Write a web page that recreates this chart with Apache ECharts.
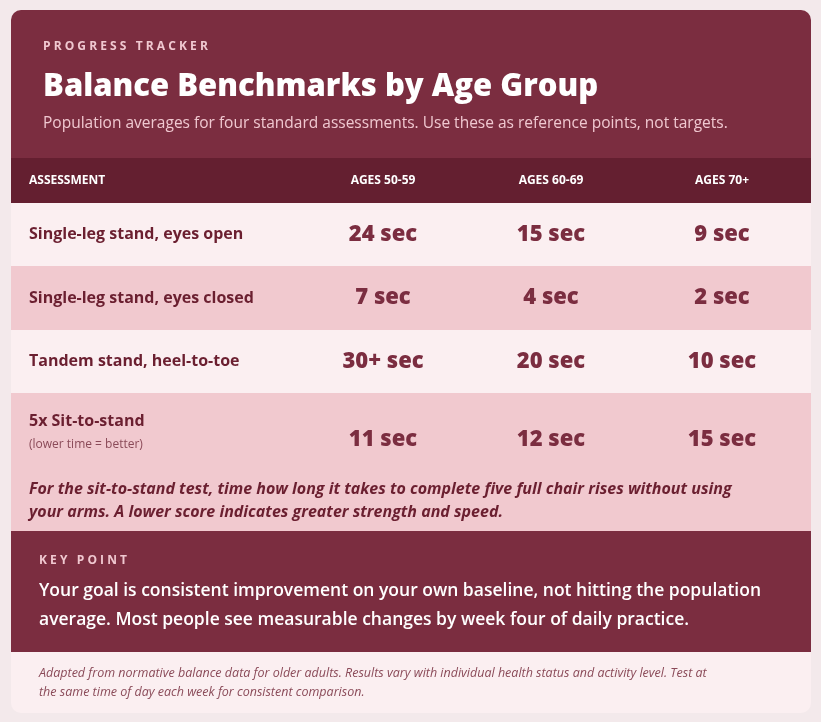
<!DOCTYPE html>
<html><head><meta charset="utf-8">
<script src="https://cdn.jsdelivr.net/npm/echarts@6/dist/echarts.min.js"></script>
<style>html,body{margin:0;padding:0;background:#f3e9eb}#c{width:821px;height:722px}</style>
</head><body><div id="c"></div>
<script>
// table data
const columns = ['AGES 50-59', 'AGES 60-69', 'AGES 70+'];
const assessments = ['Single-leg stand, eyes open', 'Single-leg stand, eyes closed', 'Tandem stand, heel-to-toe', '5x Sit-to-stand'];
const notes = ['', '', '', '(lower time = better)'];
const ages5059 = ['24 sec', '7 sec', '30+ sec', '11 sec'];
const ages6069 = ['15 sec', '4 sec', '20 sec', '12 sec'];
const ages70 = ['9 sec', '2 sec', '10 sec', '15 sec'];

const F = '"Open Sans", "Noto Sans", sans-serif';
const colX = [383, 551, 722];
const rowTop = [203, 266, 330, 393];
const rowH = [63, 64, 63, 77];
const rowFill = ['#fbeff1', '#f1c9cf', '#fbeff1', '#f1c9cf'];

const g = [];
// card
g.push({type: 'rect', shape: {x: 11, y: 10, width: 800, height: 703, r: 10}, style: {fill: '#fbeff1'}});
g.push({type: 'rect', shape: {x: 11, y: 10, width: 800, height: 148, r: [10, 10, 0, 0]}, style: {fill: '#7b2d40'}});
g.push({type: 'rect', shape: {x: 11, y: 158, width: 800, height: 45}, style: {fill: '#641f30'}});
g.push({type: 'text', x: 43, y: 47, style: {text: 'P R O G R E S S   T R A C K E R', fill: '#f0c8d0', font: 'bold 12px ' + F, verticalAlign: 'middle'}});
g.push({type: 'text', x: 43, y: 87, style: {text: 'Balance Benchmarks by Age Group', fill: '#ffffff', font: '800 31px ' + F, verticalAlign: 'middle'}});
g.push({type: 'text', x: 43, y: 124, style: {text: 'Population averages for four standard assessments. Use these as reference points, not targets.', fill: '#f0c8d0', font: '15.5px ' + F, verticalAlign: 'middle'}});
g.push({type: 'text', x: 29, y: 181, style: {text: 'ASSESSMENT', fill: '#ffffff', font: 'bold 12px ' + F, verticalAlign: 'middle'}});
columns.forEach((c, i) => g.push({type: 'text', x: colX[i], y: 181, style: {text: c, fill: '#ffffff', font: 'bold 12px ' + F, align: 'center', verticalAlign: 'middle'}}));

const vals = [ages5059, ages6069, ages70];
assessments.forEach((a, r) => {
  g.push({type: 'rect', shape: {x: 11, y: rowTop[r], width: 800, height: rowH[r]}, style: {fill: rowFill[r]}});
  const cy = rowTop[r] + rowH[r] / 2 + (notes[r] ? 8 : 0);
  g.push({type: 'text', x: 29, y: notes[r] ? rowTop[r] + 28 : cy, style: {text: a, fill: '#6b1f30', font: 'bold 16px ' + F, verticalAlign: 'middle'}});
  if (notes[r]) g.push({type: 'text', x: 29, y: rowTop[r] + 52, style: {text: notes[r], fill: '#8a4a58', font: '12px ' + F, verticalAlign: 'middle'}});
  vals.forEach((v, i) => g.push({type: 'text', x: colX[i], y: cy - 8 * (notes[r] ? 1 : 0) + (notes[r] ? 8 : 0), style: {text: v[r], fill: '#7b2d40', font: '800 22px ' + F, align: 'center', verticalAlign: 'middle'}}));
});
g.push({type: 'rect', shape: {x: 11, y: 470, width: 800, height: 61}, style: {fill: '#f1c9cf'}});
g.push({type: 'text', x: 29, y: 501, style: {text: 'For the sit-to-stand test, time how long it takes to complete five full chair rises without using\nyour arms. A lower score indicates greater strength and speed.', fill: '#6b1f30', font: 'italic bold 16px ' + F, lineHeight: 23, verticalAlign: 'middle'}});
g.push({type: 'rect', shape: {x: 11, y: 531, width: 800, height: 121}, style: {fill: '#7b2d40'}});
g.push({type: 'text', x: 39, y: 561, style: {text: 'K E Y   P O I N T', fill: '#f0c8d0', font: 'bold 12px ' + F, verticalAlign: 'middle'}});
g.push({type: 'text', x: 39, y: 606, style: {text: 'Your goal is consistent improvement on your own baseline, not hitting the population\naverage. Most people see measurable changes by week four of daily practice.', fill: '#ffffff', font: '600 17.5px ' + F, lineHeight: 29, verticalAlign: 'middle'}});
g.push({type: 'text', x: 39, y: 683, style: {text: 'Adapted from normative balance data for older adults. Results vary with individual health status and activity level. Test at\nthe same time of day each week for consistent comparison.', fill: '#8a4a58', font: 'italic 12.5px ' + F, lineHeight: 19, verticalAlign: 'middle'}});

const chart = echarts.init(document.getElementById('c'));
chart.setOption({graphic: {elements: g}});
</script></body></html>
